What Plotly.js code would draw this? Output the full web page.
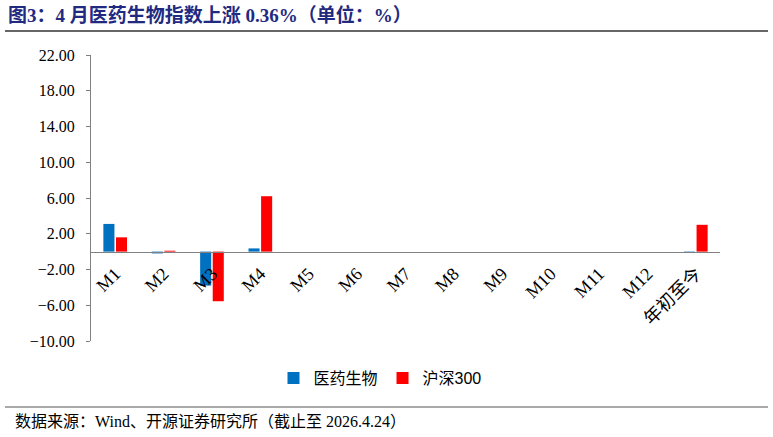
<!DOCTYPE html>
<html>
<head>
<meta charset="utf-8">
<script src="https://cdn.plot.ly/plotly-3.0.1.min.js"></script>
<style>
  html, body { margin: 0; padding: 0; background: #fff; }
  #chart { width: 773px; height: 437px; }
</style>
</head>
<body>
<div id="chart"></div>
<script>
// categories and monthly returns (%)
const categories = ['M1', 'M2', 'M3', 'M4', 'M5', 'M6', 'M7', 'M8', 'M9', 'M10', 'M11', 'M12', '年初至今'];
const pharmaValues = [3.1, -0.2, -3.8, 0.36, null, null, null, null, null, null, null, null, -0.15];
const hs300Values = [1.6, 0.1, -5.55, 6.2, null, null, null, null, null, null, null, null, 3.0];
const yTicks = [22, 18, 14, 10, 6, 2, -2, -6, -10];

const W = 773, H = 437;
const plotL = 91, plotR = 720, plotT = 55, plotB = 341;
// pixel -> paper helpers for the decorations outside the plot area
const px = x => (x - plotL) / (plotR - plotL);
const py = y => (plotB - y) / (plotB - plotT);

const serif = '"Liberation Serif", "Times New Roman", "Noto Sans CJK SC", serif';
const sans = '"Liberation Sans", Arial, "Noto Sans CJK SC", sans-serif';

const data = [
    {
        type: 'bar',
        name: '医药生物',
        x: categories,
        y: pharmaValues,
        marker: { color: '#0070C0' }
    },
    {
        type: 'bar',
        name: '沪深300',
        x: categories,
        y: hs300Values,
        marker: { color: '#FF0000' }
    }
];

const layout = {
    width: W,
    height: H,
    paper_bgcolor: '#fff',
    plot_bgcolor: '#fff',
    margin: { l: plotL, r: W - plotR, t: plotT, b: H - plotB, pad: 0 },
    barmode: 'group',
    bargap: 0.48,
    bargroupgap: 0.12,
    showlegend: true,
    legend: {
        orientation: 'h',
        x: px(380), y: py(378),
        xanchor: 'center', yanchor: 'middle',
        font: { family: sans, size: 16, color: '#000' },
        itemwidth: 30,
        bgcolor: 'rgba(0,0,0,0)'
    },
    xaxis: {
        type: 'category',
        anchor: 'free',
        position: (0 - (-10)) / 32,
        showline: true,
        linecolor: '#808080',
        linewidth: 1.5,
        ticks: '',
        tickangle: -45,
        ticklabelstandoff: 3,
        tickfont: { family: serif, size: 18, color: '#000' },
        showgrid: false,
        zeroline: false,
        fixedrange: true
    },
    yaxis: {
        range: [-10, 22],
        tickvals: yTicks,
        tickformat: '.2f',
        showline: true,
        linecolor: '#808080',
        linewidth: 1,
        ticks: 'outside',
        ticklen: 4,
        tickcolor: '#808080',
        ticklabelstandoff: 8,
        tickfont: { family: serif, size: 16, color: '#000' },
        showgrid: false,
        zeroline: false,
        fixedrange: true
    },
    shapes: [
        { type: 'line', xref: 'paper', yref: 'paper', x0: px(5), x1: px(768), y0: py(31), y1: py(31),
          line: { color: '#333', width: 1.5 } },
        { type: 'line', xref: 'paper', yref: 'paper', x0: px(5), x1: px(768), y0: py(407), y1: py(407),
          line: { color: '#555', width: 1.2 } }
    ],
    annotations: [
        {
            xref: 'paper', yref: 'paper', x: px(6), y: py(15),
            xanchor: 'left', yanchor: 'middle', showarrow: false,
            text: '<b>图3：4 月医药生物指数上涨 0.36%（单位：%）</b>',
            font: { family: serif, size: 19, color: '#1F2A80' }
        },
        {
            xref: 'paper', yref: 'paper', x: px(13), y: py(421),
            xanchor: 'left', yanchor: 'middle', showarrow: false,
            text: '数据来源：Wind、开源证券研究所（截止至 2026.4.24）',
            font: { family: serif, size: 16, color: '#000' }
        }
    ]
};

Plotly.newPlot('chart', data, layout, { displayModeBar: false, staticPlot: true });
</script>
</body>
</html>
